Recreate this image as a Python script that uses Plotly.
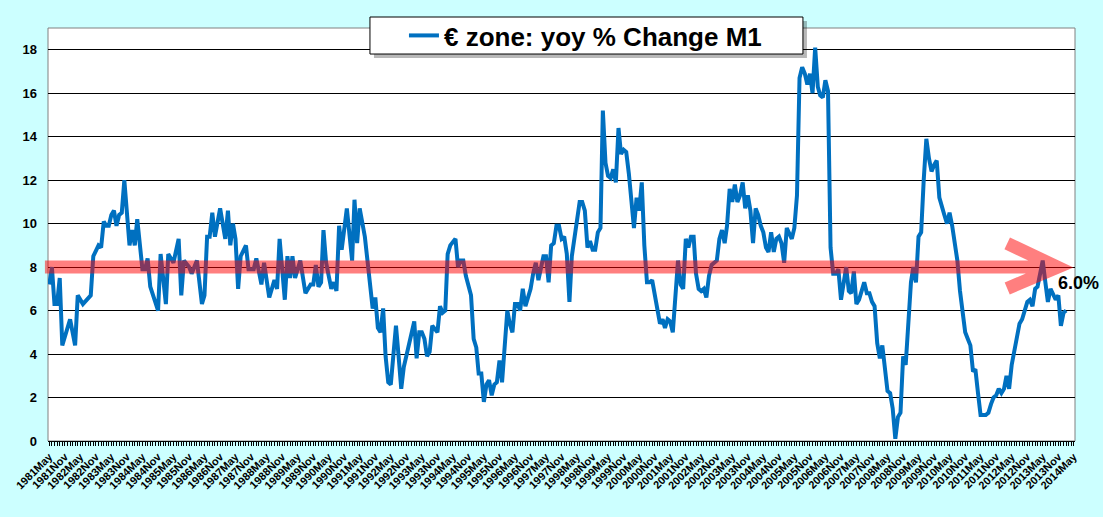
import plotly.graph_objects as go

# Euro zone M1, yoy % change (monthly)
months = [
    "1981-05", "1981-06", "1981-07", "1981-08", "1981-09", "1981-10",
    "1982-01", "1982-03", "1982-04", "1982-06", "1982-09", "1982-10", "1982-12",
    "1983-01", "1983-02", "1983-03", "1983-04", "1983-05", "1983-06", "1983-07", "1983-08", "1983-09", "1983-10", "1983-11", "1983-12",
    "1984-01", "1984-02", "1984-03", "1984-05", "1984-06", "1984-07", "1984-08", "1984-10", "1984-11", "1984-12",
    "1985-02", "1985-03", "1985-05", "1985-07", "1985-08", "1985-09", "1985-11", "1985-12",
    "1986-02", "1986-04", "1986-05", "1986-06", "1986-07", "1986-08", "1986-09", "1986-11",
    "1987-01", "1987-02", "1987-03", "1987-04", "1987-05", "1987-06", "1987-07", "1987-09", "1987-10", "1987-12",
    "1988-01", "1988-03", "1988-04", "1988-06", "1988-08", "1988-09", "1988-10", "1988-12",
    "1989-01", "1989-02", "1989-03", "1989-04", "1989-06", "1989-08", "1989-10", "1989-11", "1989-12",
    "1990-01", "1990-02", "1990-03", "1990-04", "1990-06", "1990-07", "1990-08", "1990-09", "1990-10", "1990-12",
    "1991-02", "1991-03", "1991-04", "1991-05", "1991-07", "1991-09", "1991-10", "1991-11", "1991-12",
    "1992-01", "1992-02", "1992-03", "1992-04", "1992-05", "1992-06", "1992-07", "1992-08", "1992-09", "1992-10", "1992-11",
    "1993-02", "1993-03", "1993-04", "1993-05", "1993-06", "1993-07", "1993-08", "1993-09", "1993-11", "1993-12",
    "1994-01", "1994-02", "1994-03", "1994-04", "1994-06", "1994-07", "1994-08", "1994-09", "1994-10", "1994-12",
    "1995-01", "1995-02", "1995-03", "1995-04", "1995-05", "1995-06", "1995-07", "1995-08", "1995-09", "1995-10", "1995-11", "1995-12",
    "1996-02", "1996-03", "1996-04", "1996-05", "1996-06", "1996-07", "1996-08", "1996-09", "1996-11", "1996-12",
    "1997-01", "1997-02", "1997-04", "1997-05", "1997-06", "1997-07", "1997-08", "1997-09", "1997-10", "1997-11", "1997-12",
    "1998-01", "1998-02", "1998-03", "1998-04", "1998-05", "1998-06", "1998-07", "1998-08", "1998-09", "1998-10", "1998-11", "1998-12",
    "1999-01", "1999-02", "1999-03", "1999-04", "1999-05", "1999-06", "1999-07", "1999-08", "1999-09", "1999-10", "1999-11", "1999-12",
    "2000-01", "2000-02", "2000-03", "2000-04", "2000-05", "2000-06", "2000-07", "2000-08", "2000-09", "2000-10", "2000-11", "2000-12",
    "2001-01", "2001-02", "2001-03", "2001-04", "2001-05", "2001-06", "2001-07", "2001-08", "2001-09", "2001-10", "2001-11", "2001-12",
    "2002-01", "2002-02", "2002-03", "2002-04", "2002-05", "2002-06", "2002-07", "2002-08", "2002-09", "2002-10", "2002-11", "2002-12",
    "2003-01", "2003-02", "2003-03", "2003-04", "2003-05", "2003-06", "2003-07", "2003-08", "2003-09", "2003-10", "2003-11", "2003-12",
    "2004-01", "2004-02", "2004-03", "2004-04", "2004-05", "2004-06", "2004-07", "2004-08", "2004-09", "2004-10", "2004-11", "2004-12",
    "2005-01", "2005-02", "2005-03", "2005-04", "2005-05", "2005-06", "2005-07", "2005-08", "2005-09", "2005-10", "2005-11", "2005-12",
    "2006-01", "2006-02", "2006-03", "2006-04", "2006-05", "2006-06", "2006-07", "2006-08", "2006-09", "2006-10", "2006-11", "2006-12",
    "2007-01", "2007-02", "2007-03", "2007-04", "2007-05", "2007-06", "2007-08", "2007-09", "2007-10", "2007-11", "2007-12",
    "2008-01", "2008-02", "2008-03", "2008-04", "2008-05", "2008-06", "2008-07", "2008-08", "2008-09", "2008-10", "2008-11", "2008-12",
    "2009-01", "2009-02", "2009-03", "2009-04", "2009-05", "2009-06", "2009-07", "2009-08", "2009-09", "2009-10", "2009-11", "2009-12",
    "2010-01", "2010-02", "2010-03", "2010-04", "2010-05", "2010-06", "2010-07", "2010-08", "2010-09", "2010-10", "2010-11", "2010-12",
    "2011-01", "2011-02", "2011-03", "2011-04", "2011-05", "2011-07", "2011-08", "2011-09", "2011-10", "2011-11", "2011-12",
    "2012-01", "2012-02", "2012-03", "2012-04", "2012-05", "2012-06", "2012-07", "2012-08", "2012-09", "2012-10", "2012-11", "2012-12",
    "2013-01", "2013-02", "2013-03", "2013-04", "2013-05", "2013-06", "2013-07", "2013-08", "2013-09", "2013-10", "2013-11", "2013-12",
    "2014-01", "2014-02",
]
m1_yoy = [
    7.2, 8.0, 6.3, 6.3, 7.5, 4.4,
    5.6, 4.4, 6.7, 6.3, 6.7, 8.5, 9.0,
    8.9, 10.1, 9.9, 9.9, 10.4, 10.6, 9.9, 10.4, 10.5, 12.0, 10.7, 9.0,
    9.7, 9.0, 10.2, 7.9, 7.9, 8.4, 7.1, 6.3, 6.0, 8.6,
    6.3, 8.6, 8.2, 9.3, 6.7, 8.3, 8.0, 7.7,
    8.3, 6.3, 6.7, 9.4, 9.4, 10.5, 9.4, 10.7,
    9.3, 10.6, 9.0, 10.0, 9.3, 7.0, 8.5, 9.0, 7.9, 7.9,
    8.4, 7.2, 8.2, 6.6, 7.4, 7.0, 9.3, 6.5,
    8.5, 7.5, 8.5, 7.5, 8.3, 6.8, 7.2, 7.2, 8.1,
    7.1, 7.3, 9.7, 8.2, 7.0, 7.3, 6.9, 9.9, 8.8, 10.7,
    8.3, 11.1, 9.1, 10.7, 9.4, 7.3, 6.1, 6.6, 5.2,
    5.0, 6.1, 3.9, 2.7, 2.6, 3.9, 5.3, 3.9, 2.4, 3.4, 3.9,
    5.5, 3.8, 5.0, 5.0, 4.7, 3.9, 4.1, 5.3, 5.0, 6.2,
    5.9, 6.0, 8.6, 9.0, 9.3, 8.0, 8.3, 8.3, 7.6, 6.7,
    4.7, 4.3, 3.1, 3.1, 1.8, 2.6, 2.8, 2.1, 2.6, 2.7, 3.7, 2.7,
    6.0, 5.4, 5.0, 6.3, 6.3, 6.0, 7.0, 6.2, 7.0, 7.7,
    8.2, 7.4, 8.5, 8.5, 7.3, 9.0, 9.1, 9.9, 9.9, 9.3, 9.4,
    8.6, 6.4, 8.5, 9.3, 10.0, 11.0, 11.0, 10.6, 8.9, 9.2, 8.8, 8.8,
    9.6, 9.8, 15.2, 12.8, 12.2, 12.1, 12.5, 11.9, 14.4, 13.2, 13.4, 13.3,
    12.3, 10.9, 9.8, 11.2, 10.6, 11.9, 9.0, 7.3, 7.3, 7.4, 6.7, 6.1,
    5.4, 5.6, 5.2, 5.6, 5.5, 5.0, 6.7, 8.3, 7.2, 7.0, 9.3, 8.9,
    9.4, 9.4, 7.7, 7.0, 6.9, 7.0, 6.6, 7.6, 8.1, 8.2, 8.3, 9.3,
    9.7, 9.1, 9.9, 11.6, 11.0, 11.8, 11.0, 11.3, 11.9, 10.7, 11.3, 10.6,
    9.1, 10.7, 10.4, 9.9, 9.6, 8.9, 8.7, 9.6, 8.7, 9.3, 9.4, 9.1,
    8.2, 9.8, 9.6, 9.3, 9.8, 11.3, 16.7, 17.2, 16.9, 16.4, 16.9, 16.0,
    18.1, 16.3, 15.9, 15.8, 16.6, 16.1, 8.9, 7.7, 7.7, 7.9, 6.5, 7.2,
    8.0, 6.9, 6.8, 7.8, 6.3, 6.5, 7.3, 6.8, 6.8, 6.4, 6.2,
    4.5, 3.8, 4.4, 3.2, 2.3, 2.2, 1.5, 0.1, 1.1, 1.3, 3.9, 3.5,
    5.3, 7.3, 8.0, 7.3, 9.4, 9.6, 12.0, 13.9, 13.0, 12.4, 12.7, 12.9,
    11.2, 10.7, 10.4, 10.0, 10.5, 9.9, 9.2, 8.3, 6.9, 6.0, 5.0, 4.7,
    4.4, 3.2, 3.3, 2.2, 1.2, 1.2, 1.3, 1.7, 2.0, 2.1, 2.4,
    2.2, 2.4, 3.0, 2.4, 3.5, 4.1, 4.9, 5.4, 5.6, 6.0, 6.4, 6.5,
    6.2, 7.0, 7.1, 7.7, 8.3, 7.3, 6.4, 7.0, 6.7, 6.5, 6.7, 5.3,
    5.9, 6.0,
]

NIVEL_SETA = 8       # horizontal arrow level
ULTIMO_TXT = "6.0%"

FONTE = "Arial, Liberation Sans, sans-serif"
AZUL = "#0070C0"
FUNDO = "#CCFFFF"

fig = go.Figure()

fig.add_trace(go.Scatter(
    x=months,
    y=m1_yoy,
    mode="lines",
    line=dict(color=AZUL, width=4),
    name="€ zone: yoy % Change M1",
))

# moldura, seta vermelha e caixa da legenda
fig.add_shape(type="rect", xref="paper", yref="paper", x0=0, x1=1, y0=0, y1=1,
              line=dict(color="#808080", width=1), layer="below")
fig.add_shape(type="path", xref="paper", yref="y", layer="above",
              path=f"M -0.003,{NIVEL_SETA} L 0.983,{NIVEL_SETA} "
                   f"M 0.934,{NIVEL_SETA + 1.09} L 0.983,{NIVEL_SETA} L 0.934,{NIVEL_SETA - 0.98}",
              line=dict(color="rgba(255,0,0,0.5)", width=13))
fig.add_shape(type="rect", xref="paper", yref="paper", layer="above",
              x0=0.3174, x1=0.7390, y0=0.9274, y1=1.0169,
              fillcolor="rgba(0,0,0,0.28)", line=dict(width=0))
fig.add_shape(type="rect", xref="paper", yref="paper", layer="above",
              x0=0.3135, x1=0.7351, y0=0.937, y1=1.0266,
              fillcolor="white", line=dict(color="black", width=1))

fig.add_annotation(x=1.003, y=7.25, xref="paper", yref="y", text=ULTIMO_TXT,
                   showarrow=False, xanchor="center",
                   font=dict(family=FONTE, size=18, color="black", weight="bold"))

fig.update_layout(
    width=1103, height=517,
    margin=dict(l=48, r=28, t=28, b=76),
    paper_bgcolor=FUNDO,
    plot_bgcolor="white",
    font=dict(family=FONTE, color="black"),
    showlegend=True,
    legend=dict(x=0.3466, y=0.9818, xanchor="left", yanchor="middle",
                bgcolor="rgba(0,0,0,0)", borderwidth=0,
                font=dict(family=FONTE, size=26, color="black", weight="bold")),
    xaxis=dict(
        type="date",
        range=["1981-04-16", "2014-05-16"],
        tick0="1981-05-01", dtick="M6", tickformat="%Y%b",
        tickangle=-45, tickfont=dict(size=11, weight="bold"),
        ticks="outside", ticklen=4, tickcolor="black",
        minor=dict(dtick="M1", ticks="outside", ticklen=4, tickcolor="black"),
        showgrid=False, showline=True, linecolor="black", linewidth=1,
        automargin=False,
    ),
    yaxis=dict(
        range=[0, 19], tick0=0, dtick=2,
        showgrid=True, gridcolor="black", gridwidth=1,
        zeroline=False, showline=False,
        ticks="", ticklabelstandoff=10,
        tickfont=dict(size=13, weight="bold"),
        automargin=False,
    ),
)

# the page body has an 8px default margin; drop it so the figure fills the window
fig.write_html("out.html", config=dict(displayModeBar=False),
               post_script="document.body.style.margin='0';")
